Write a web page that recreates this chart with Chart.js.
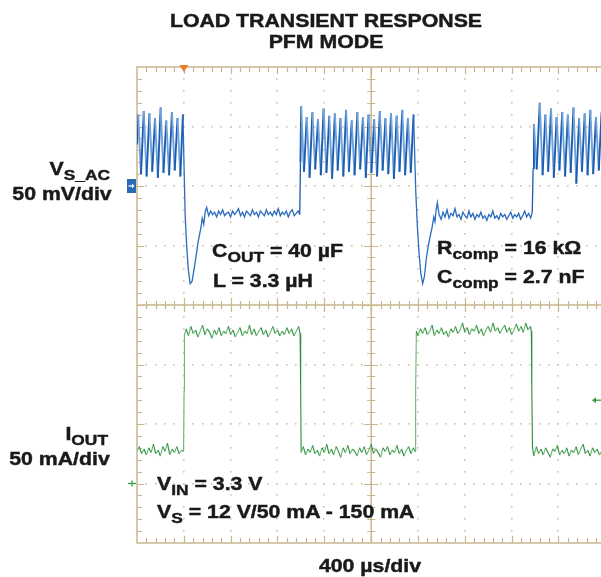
<!DOCTYPE html>
<html><head><meta charset="utf-8">
<script src="https://cdn.jsdelivr.net/npm/chart.js@4.4.0/dist/chart.umd.min.js"></script>
<style>
html,body{margin:0;padding:0;background:#fff;overflow:hidden;}
#wrap{position:relative;width:601px;height:577px;}
#c{position:absolute;left:0;top:0;}
.t{position:absolute;font-family:"Liberation Sans",Arial,sans-serif;font-weight:bold;font-size:19px;line-height:19px;color:#1a1a1a;white-space:nowrap;transform:scaleX(1.12);-webkit-text-stroke:0.45px #1a1a1a;}
.l{transform-origin:left top;}
.r{transform-origin:right top;text-align:right;}
.c{transform-origin:center top;text-align:center;}
.s{font-size:15.5px;position:relative;top:5px;}
</style></head>
<body>
<div id="wrap">
<canvas id="c" width="601" height="577"></canvas>
<div class="t c" style="left:0;width:652px;top:11px;">LOAD TRANSIENT RESPONSE</div>
<div class="t c" style="left:0;width:652px;top:32px;">PFM MODE</div>
<div class="t r" style="right:491px;top:159px;">V<span class="s">S_AC</span></div>
<div class="t r" style="right:489px;top:184px;">50 mV/div</div>
<div class="t r" style="right:493px;top:424px;">I<span class="s">OUT</span></div>
<div class="t r" style="right:491px;top:449px;">50 mA/div</div>
<div class="t l" style="left:212px;top:241px;">C<span class="s">OUT</span> = 40 µF</div>
<div class="t l" style="left:213px;top:271px;">L = 3.3 µH</div>
<div class="t l" style="left:437px;top:238px;">R<span class="s">comp</span> = 16 kΩ</div>
<div class="t l" style="left:437px;top:267px;">C<span class="s">comp</span> = 2.7 nF</div>
<div class="t l" style="left:157px;top:474px;">V<span class="s">IN</span> = 3.3 V</div>
<div class="t l" style="left:157px;top:502px;">V<span class="s">S</span> = 12 V/50 mA - 150 mA</div>
<div class="t c" style="left:0;width:740px;top:556px;">400 µs/div</div>
</div>
<script>
// Scope settings
const TIME_PER_DIV = 400;   // µs/div
const V_PER_DIV = 50;       // mV/div
const I_PER_DIV = 50;       // mA/div
const TRIGGER_TIME = 400;   // µs
const TRIGGER_LEVEL = 92;   // mA

// V_S_AC trace: [time µs, mV]
const vsAcTrace = [
[0,35],[10,60],[34,10],[58,63],[82,8],[106,61],[130,12],[154,57],[178,7],[202,66],[226,11],[250,55],[274,9],[298,62],[322,13],[346,57],[370,8],[392,60],
[411,-24],[424,-50],[437,-69],[454,-82],[471,-80],[497,-64],[522,-47],[548,-34],[557,-27],[570,-32],[582,-22],[595,-18],
[612,-25],[629,-21],[646,-24],[663,-22],[680,-26],[697,-21],[714,-24],[731,-20],[748,-25],[765,-23],[782,-22],[799,-26],[816,-21],[833,-24],[850,-22],[867,-19],[884,-25],[901,-22],[918,-26],[935,-21],[952,-23],[969,-25],[986,-20],[1003,-24],[1020,-22],[1037,-26],[1054,-21],[1071,-23],[1088,-25],[1105,-20],[1122,-24],[1139,-22],[1156,-25],[1173,-21],[1190,-24],[1207,-19],[1224,-25],[1241,-22],[1258,-24],[1275,-21],[1292,-26],[1309,-22],[1326,-20],[1343,-25],[1360,-23],[1377,-21],[1390,-24],
[1396,20],[1402,67],[1426,12],[1450,58],[1474,7],[1498,62],[1522,14],[1546,56],[1570,9],[1594,65],[1618,11],[1642,59],[1666,6],[1690,61],[1714,13],[1738,57],[1762,8],[1786,64],[1810,12],[1834,55],[1858,9],[1882,62],[1906,14],[1930,58],[1954,7],[1978,60],[2002,11],[2026,56],[2050,8],[2074,63],[2098,13],[2122,57],[2146,10],[2170,61],[2194,6],[2218,59],[2242,12],[2266,64],[2290,9],[2314,57],[2338,11],[2362,60],
[2381,-5],[2395,-35],[2410,-58],[2425,-74],[2440,-82],[2455,-76],[2470,-62],[2485,-52],[2500,-44],[2520,-35],[2535,-26],[2545,-30],[2555,-20],[2565,-14],[2580,-24],
[2597,-28],[2614,-22],[2631,-26],[2648,-20],[2665,-27],[2682,-23],[2699,-25],[2716,-19],[2733,-26],[2750,-24],[2767,-28],[2784,-22],[2801,-25],[2818,-27],[2835,-21],[2852,-26],[2869,-23],[2886,-28],[2903,-24],[2920,-26],[2937,-22],[2954,-27],[2971,-25],[2988,-29],[3005,-24],[3022,-26],[3039,-21],[3056,-27],[3073,-25],[3090,-28],[3107,-23],[3124,-26],[3141,-24],[3158,-28],[3175,-25],[3192,-22],[3209,-27],[3226,-24],[3243,-26],[3260,-23],[3277,-28],[3294,-25],[3311,-21],[3328,-26],[3345,-23],[3362,-27],[3376,-22],
[3383,15],[3390,52],[3414,14],[3440,70],[3464,9],[3488,60],[3512,12],[3536,65],[3560,7],[3584,58],[3608,13],[3632,62],[3656,8],[3680,60],[3704,11],[3728,66],[3752,2],[3776,57],[3800,12],[3824,61],[3848,9],[3872,64],[3896,10],[3920,58],[3944,13],[3968,62]
];

// I_OUT trace: [time µs, mA]
const ioutTrace = [
[0,49],[20,53],[40,47],[60,51],[80,46],[100,52],[120,48],[140,55],[160,47],[180,50],[200,45],[220,53],[240,49],[260,56],[280,46],[300,51],[320,48],[340,53],[360,47],[380,50],[398,49],
[402,100],[405,147],
[420,152],[440,146],[460,154],[480,148],[500,151],[520,145],[540,150],[560,155],[580,147],[600,152],[620,149],[640,144],[660,151],[680,147],[700,153],[720,146],[740,150],[760,148],[780,154],[800,147],[820,151],[840,145],[860,149],[880,153],[900,146],[920,150],[940,148],[960,155],[980,147],[1000,152],[1020,146],[1040,150],[1060,153],[1080,147],[1100,151],[1120,145],[1140,149],[1160,154],[1180,148],[1200,151],[1220,146],[1240,150],[1260,147],[1280,153],[1300,148],[1320,152],[1340,146],[1360,150],[1380,154],[1393,148],
[1398,100],[1402,48],
[1420,53],[1440,46],[1460,51],[1480,48],[1500,54],[1520,47],[1540,50],[1560,45],[1580,52],[1600,48],[1620,55],[1640,47],[1660,51],[1680,46],[1700,53],[1720,49],[1740,44],[1760,52],[1780,48],[1800,54],[1820,47],[1840,51],[1860,49],[1880,45],[1900,52],[1920,48],[1940,53],[1960,46],[1980,50],[2000,55],[2020,47],[2040,51],[2060,48],[2080,44],[2100,52],[2120,49],[2140,53],[2160,46],[2180,50],[2200,48],[2220,54],[2240,47],[2260,51],[2280,45],[2300,50],[2320,53],[2340,47],[2360,52],[2375,49],
[2380,100],[2386,150],
[2400,146],[2420,152],[2440,148],[2460,153],[2480,147],[2500,150],[2520,155],[2540,146],[2560,151],[2580,148],[2600,153],[2620,147],[2640,150],[2660,145],[2680,152],[2700,149],[2720,154],[2740,148],[2760,151],[2780,157],[2800,149],[2820,153],[2840,147],[2860,152],[2880,150],[2900,155],[2920,148],[2940,152],[2960,146],[2980,151],[3000,154],[3020,149],[3040,157],[3060,150],[3080,153],[3100,148],[3120,152],[3140,155],[3160,149],[3180,153],[3200,147],[3220,151],[3240,156],[3260,150],[3280,154],[3300,149],[3320,157],[3340,151],[3360,154],[3368,150],
[3372,100],[3378,52],
[3390,45],[3410,53],[3430,47],[3450,51],[3470,46],[3490,52],[3510,48],[3530,44],[3550,51],[3570,49],[3590,54],[3610,46],[3630,50],[3650,47],[3670,52],[3690,45],[3710,50],[3730,48],[3750,53],[3770,46],[3790,51],[3810,55],[3830,47],[3850,50],[3870,45],[3890,52],[3910,48],[3930,51],[3950,46],[3974,50]
];

const TAN = '#c9b68f';
const DOT = '#cfc4a3';

const scopeGrid = {
  id: 'scopeGrid',
  beforeDatasetsDraw(chart) {
    const {ctx, chartArea: a, scales: {x, yV}} = chart;
    const dx = x.getPixelForValue(TIME_PER_DIV) - x.getPixelForValue(0);
    const y0 = yV.getPixelForValue(yV.max);
    const dy = yV.getPixelForValue(yV.max - V_PER_DIV) - y0;
    const x0 = x.getPixelForValue(0);
    const bottom = y0 + 8 * dy;
    ctx.save();
    ctx.fillStyle = DOT;
    for (let i = 1; i <= 10; i++) {
      if (i === 5) continue;
      const gx = x0 + i * dx;
      if (gx > a.right) continue;
      for (let k = 1; k < 40; k++) {
        ctx.fillRect(Math.round(gx) - 1, Math.round(y0 + k * dy / 5) - 1, 1.6, 1.6);
      }
    }
    for (let j = 1; j < 8; j++) {
      if (j === 4) continue;
      const gy = y0 + j * dy;
      for (let k = 1; k < 50; k++) {
        const px = x0 + k * dx / 5;
        if (px > a.right) break;
        ctx.fillRect(Math.round(px) - 1, Math.round(gy) - 1, 1.6, 1.6);
      }
    }
    ctx.strokeStyle = TAN;
    ctx.lineWidth = 1.5;
    ctx.beginPath();
    ctx.moveTo(a.right + 2, y0); ctx.lineTo(x0, y0); ctx.lineTo(x0, bottom); ctx.lineTo(a.right + 2, bottom);
    ctx.stroke();
    const cx = x0 + 5 * dx, cy = y0 + 4 * dy;
    ctx.beginPath();
    ctx.moveTo(cx, y0); ctx.lineTo(cx, bottom);
    ctx.moveTo(x0, cy); ctx.lineTo(a.right + 2, cy);
    ctx.stroke();
    ctx.lineWidth = 1.2;
    ctx.beginPath();
    for (let k = 1; k < 50; k++) {
      const px = Math.round(x0 + k * dx / 5) + 0.5;
      if (px > a.right) break;
      const major = k % 5 === 0;
      ctx.moveTo(px, y0); ctx.lineTo(px, y0 + (major ? 7 : 5));
      ctx.moveTo(px, bottom); ctx.lineTo(px, bottom - (major ? 7 : 5));
      ctx.moveTo(px, cy - (major ? 7 : 4)); ctx.lineTo(px, cy + (major ? 7 : 4));
    }
    for (let k = 1; k < 40; k++) {
      const py = Math.round(y0 + k * dy / 5) + 0.5;
      const major = k % 5 === 0;
      ctx.moveTo(x0, py); ctx.lineTo(x0 + (major ? 7 : 5), py);
      ctx.moveTo(cx - (major ? 7 : 4), py); ctx.lineTo(cx + (major ? 7 : 4), py);
    }
    ctx.stroke();
    ctx.restore();
  },
  afterDatasetsDraw(chart) {
    const {ctx, chartArea: a, scales: {x, yV, yI}} = chart;
    const y0 = yV.getPixelForValue(yV.max);
    const dy = yV.getPixelForValue(yV.max - V_PER_DIV) - y0;
    ctx.save();
    const tx = x.getPixelForValue(TRIGGER_TIME);
    ctx.fillStyle = '#f07a2c';
    ctx.beginPath();
    ctx.moveTo(tx - 4.5, y0 - 2); ctx.lineTo(tx + 4.5, y0 - 2); ctx.lineTo(tx, y0 + 5); ctx.closePath();
    ctx.fill();
    const by = yV.getPixelForValue(0);
    ctx.fillStyle = '#2a6bb8';
    ctx.fillRect(a.left - 10, by - 7, 9, 14);
    ctx.strokeStyle = '#fff'; ctx.fillStyle = '#fff'; ctx.lineWidth = 1.3;
    ctx.beginPath(); ctx.moveTo(a.left - 8.5, by); ctx.lineTo(a.left - 4, by); ctx.stroke();
    ctx.beginPath(); ctx.moveTo(a.left - 2.5, by); ctx.lineTo(a.left - 5, by - 2.5); ctx.lineTo(a.left - 5, by + 2.5); ctx.closePath(); ctx.fill();
    const gy = y0 + 7 * dy;
    ctx.strokeStyle = '#3a9a45'; ctx.fillStyle = '#3a9a45'; ctx.lineWidth = 1.3;
    ctx.beginPath(); ctx.moveTo(a.left - 9, gy); ctx.lineTo(a.left - 1, gy); ctx.stroke();
    ctx.beginPath(); ctx.moveTo(a.left - 5, gy - 3); ctx.lineTo(a.left - 5, gy + 3); ctx.stroke();
    const ly = yI.getPixelForValue(TRIGGER_LEVEL);
    ctx.beginPath(); ctx.moveTo(a.right - 7, ly); ctx.lineTo(a.right, ly); ctx.stroke();
    ctx.beginPath(); ctx.moveTo(a.right - 9, ly); ctx.lineTo(a.right - 5, ly - 3); ctx.lineTo(a.right - 5, ly + 3); ctx.closePath(); ctx.fill();
    ctx.restore();
  }
};

const toXY = arr => arr.map(p => ({x: p[0], y: p[1]}));

new Chart(document.getElementById('c'), {
  type: 'line',
  data: {
    datasets: [
      {
        label: 'I_OUT',
        data: toXY(ioutTrace),
        yAxisID: 'yI',
        borderColor: '#3a9a45',
        borderWidth: 1.1,
        pointRadius: 0,
        tension: 0,
        segment: {
          borderColor: c => (c.p1.parsed.y - c.p0.parsed.y) > 2 ? '#68b571' : '#2a8f3b'
        }
      },
      {
        label: 'V_S_AC',
        data: toXY(vsAcTrace),
        yAxisID: 'yV',
        borderColor: '#2a6cbf',
        borderWidth: 1.5,
        pointRadius: 0,
        tension: 0,
        segment: {
          borderColor: c => {
            const d = c.p1.parsed.y - c.p0.parsed.y;
            if (d > 20) return '#1b5cb0';
            if (d < -20 && c.p1.parsed.y > -5) return '#6fa2dc';
            return '#2a6cbf';
          },
          borderWidth: c => Math.abs(c.p1.parsed.y - c.p0.parsed.y) > 20 && c.p1.parsed.y > -5 && c.p0.parsed.y > -5 ? 1.9 : 1.3
        }
      }
    ]
  },
  options: {
    responsive: false,
    animation: false,
    events: [],
    layout: {padding: {left: 137, top: 67, right: 0, bottom: 34}},
    plugins: {legend: {display: false}, tooltip: {enabled: false}, title: {display: false}},
    scales: {
      x: {type: 'linear', min: 0, max: 3963, display: false},
      yV: {type: 'linear', min: -300, max: 100, display: false},
      yI: {type: 'linear', min: -28, max: 372, display: false}
    }
  },
  plugins: [scopeGrid]
});
</script>
</body></html>
